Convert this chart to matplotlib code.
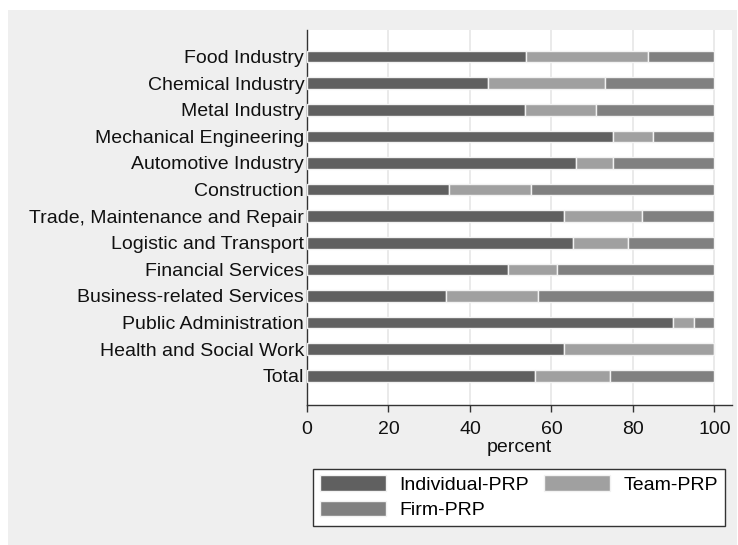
import matplotlib.pyplot as plt
from matplotlib.patches import Rectangle

plt.rcParams['font.family'] = ['Liberation Sans', 'DejaVu Sans']

# Datos (porcentajes)
sectors = ['Food Industry', 'Chemical Industry', 'Metal Industry',
           'Mechanical Engineering', 'Automotive Industry', 'Construction',
           'Trade, Maintenance and Repair', 'Logistic and Transport',
           'Financial Services', 'Business-related Services',
           'Public Administration', 'Health and Social Work', 'Total']
individual = [53.8, 44.5, 53.5, 75.2, 66.1, 34.8, 63.1, 65.2, 49.4, 34.2, 89.8, 63.1, 55.9]
team = [30.0, 28.6, 17.4, 9.7, 8.9, 20.1, 19.2, 13.6, 12.0, 22.5, 5.2, 36.9, 18.4]
firm = [16.2, 26.9, 29.1, 15.1, 25.0, 45.1, 17.7, 21.2, 38.6, 43.3, 5.0, 0.0, 25.7]

series = [('Individual-PRP', individual, '#606060'),
          ('Team-PRP', team, '#a0a0a0'),
          ('Firm-PRP', firm, '#808080')]

fig = plt.figure(figsize=(7.38, 5.45), dpi=100)
fig.patch.set_facecolor('white')
# Fondo gris tipo Stata
fig.patches.append(Rectangle((8 / 738, 0), 729 / 738, 535 / 545,
                             transform=fig.transFigure, facecolor='#efefef',
                             edgecolor='none', zorder=-10))

ax = fig.add_axes([307 / 738, 140 / 545, 425 / 738, 375 / 545])
ax.set_facecolor('white')

ypos = list(range(len(sectors)))
left = [0.0] * len(sectors)
handles = {}
for name, vals, col in series:
    b = ax.barh(ypos, vals, left=left, height=0.44, color=col,
                edgecolor='#f2f2f2', linewidth=1.0, label=name, zorder=3)
    handles[name] = b
    left = [l + v for l, v in zip(left, vals)]

ax.set_xlim(0, 104.3)
ax.set_ylim(13.1, -1.0)
ax.set_xticks([0, 20, 40, 60, 80, 100])
ax.set_yticks(ypos)
ax.set_yticklabels(sectors)

for x in [20, 40, 60, 80, 100]:
    ax.axvline(x, color='#e6e6e6', linewidth=1.2, zorder=1)

for s in ['top', 'right']:
    ax.spines[s].set_visible(False)
for s in ['left', 'bottom']:
    ax.spines[s].set_color('#333333')
    ax.spines[s].set_linewidth(1.0)

ax.tick_params(axis='y', length=0, pad=2, labelsize=14, labelcolor='#111111')
ax.tick_params(axis='x', length=5, width=1, color='#333333', pad=6.5,
               labelsize=14, labelcolor='#111111')
ax.set_xlabel('percent', fontsize=14, color='#111111', labelpad=0.5)

leg = fig.legend([handles['Individual-PRP'], handles['Firm-PRP'], handles['Team-PRP']],
                 ['Individual-PRP', 'Firm-PRP', 'Team-PRP'],
                 ncol=2, mode='expand',
                 bbox_to_anchor=(313 / 738, 19 / 545, 412 / 738, 59 / 545),
                 loc='lower left', fontsize=14, frameon=True, fancybox=False,
                 handlelength=3.4, handleheight=0.85, handletextpad=0.7,
                 labelspacing=0.35, borderpad=0.35, borderaxespad=0,
                 columnspacing=1.0)
leg.get_frame().set_edgecolor('#333333')
leg.get_frame().set_linewidth(1.0)
leg.get_frame().set_facecolor('white')
leg.get_frame().set_alpha(1)

fig.savefig('out.png', dpi=100, facecolor=fig.get_facecolor())
